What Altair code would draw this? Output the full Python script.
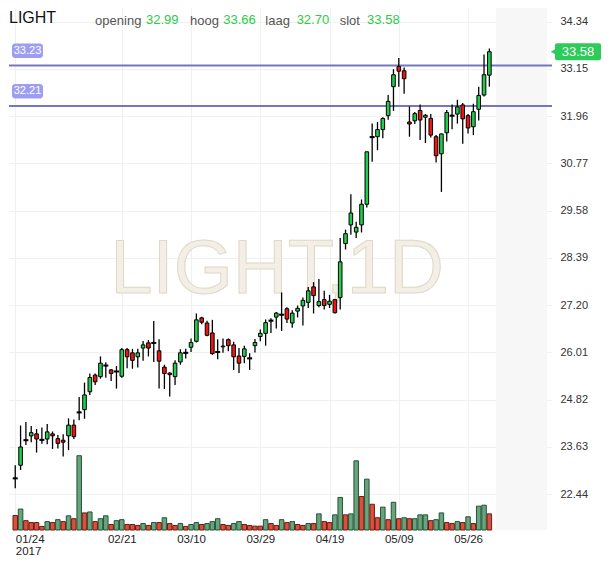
import altair as alt
import pandas as pd

# ---------------- data ----------------
opens = [22.84, 23.17, 23.80, 23.91, 23.96, 23.81, 23.83, 23.96, 23.84, 23.80,
         23.91, 24.18, 24.50, 24.57, 25.02, 25.44, 25.40, 25.68, 25.57, 25.53,
         25.41, 26.08, 26.00, 25.90, 26.12, 26.25, 26.25, 26.05, 25.64, 25.49,
         25.40, 25.77, 26.00, 26.14, 26.29, 26.88, 26.75, 26.50, 26.02, 26.15,
         26.33, 26.20, 25.92, 25.91, 25.86, 26.18, 26.41, 26.49, 26.81, 26.90,
         26.96, 27.11, 26.75, 27.05, 27.18, 27.27, 27.66, 27.19, 27.34, 27.22,
         27.34, 27.39, 28.75, 29.22, 29.04, 29.22, 29.74, 31.43, 31.44, 31.62,
         31.97, 32.70, 33.21, 33.10, 31.81, 31.84, 32.10, 31.93, 31.90, 31.44,
         31.01, 31.54, 31.97, 32.01, 32.24, 31.97, 31.69, 32.13, 32.49, 32.99]
highs = [23.17, 24.17, 24.26, 24.16, 24.08, 24.12, 24.21, 24.02, 23.93, 23.95,
         24.35, 24.32, 24.89, 25.25, 25.48, 25.48, 25.91, 25.76, 25.59, 25.67,
         26.12, 26.12, 26.10, 26.10, 26.30, 26.32, 26.80, 26.34, 25.70, 25.51,
         25.81, 26.09, 26.10, 26.36, 26.99, 26.91, 26.81, 26.83, 26.34, 26.36,
         26.36, 26.28, 26.12, 26.18, 25.99, 26.35, 26.59, 26.84, 26.87, 27.03,
         27.52, 27.15, 27.07, 27.19, 27.39, 27.66, 27.78, 27.86, 27.56, 27.46,
         27.35, 28.89, 29.10, 29.99, 29.30, 29.86, 31.06, 31.77, 31.81, 31.93,
         32.49, 33.14, 33.42, 33.18, 32.20, 32.06, 32.25, 32.01, 32.01, 31.48,
         31.52, 32.11, 32.25, 32.37, 32.29, 32.01, 32.27, 32.70, 33.51, 33.66]
lows = [22.59, 23.05, 23.68, 23.75, 23.49, 23.71, 23.70, 23.58, 23.59, 23.39,
        23.55, 23.83, 24.30, 24.34, 24.94, 25.19, 25.35, 25.37, 25.29, 25.10,
        25.37, 25.61, 25.60, 25.63, 25.80, 25.91, 25.77, 25.10, 25.09, 24.90,
        25.19, 25.70, 25.86, 26.02, 26.26, 26.72, 26.42, 25.95, 25.84, 26.00,
        26.04, 25.57, 25.49, 25.74, 25.57, 26.01, 26.29, 26.18, 26.50, 26.61,
        26.55, 26.75, 26.63, 26.89, 26.69, 27.13, 26.99, 27.15, 27.09, 27.13,
        26.99, 27.09, 28.60, 28.97, 28.89, 29.03, 29.66, 30.81, 31.10, 31.40,
        31.87, 32.09, 32.70, 32.52, 31.44, 31.76, 31.36, 31.28, 31.42, 30.79,
        30.05, 31.32, 31.63, 31.77, 31.26, 31.52, 31.48, 31.85, 32.45, 32.70]
closes = [22.84, 23.63, 23.80, 23.99, 23.83, 23.81, 24.01, 23.91, 23.72, 23.75,
          24.18, 23.89, 24.50, 24.94, 25.38, 25.27, 25.74, 25.68, 25.48, 25.53,
          26.08, 25.90, 25.81, 26.00, 26.20, 26.12, 26.25, 25.79, 25.48, 25.45,
          25.74, 26.00, 26.00, 26.26, 26.83, 26.77, 26.44, 25.98, 26.02, 26.17,
          26.18, 25.90, 25.74, 26.10, 25.86, 26.26, 26.49, 26.76, 26.81, 27.00,
          26.96, 26.85, 27.00, 27.12, 27.32, 27.56, 27.44, 27.29, 27.19, 27.30,
          27.01, 28.29, 29.00, 29.52, 29.16, 29.74, 31.06, 31.43, 31.62, 31.90,
          32.33, 33.00, 33.09, 32.90, 31.76, 32.02, 31.86, 31.98, 31.48, 30.96,
          31.51, 32.05, 31.97, 32.19, 31.89, 31.66, 32.07, 32.48, 33.00, 33.58]
volumes = [150, 217, 97, 77, 77, 37, 87, 77, 107, 87,
           147, 117, 770, 177, 187, 87, 117, 147, 57, 97,
           107, 57, 57, 47, 67, 47, 77, 77, 127, 67,
           47, 67, 37, 57, 77, 57, 67, 87, 117, 57,
           47, 67, 87, 57, 47, 40, 40, 107, 67, 47,
           107, 77, 87, 57, 47, 67, 67, 167, 87, 77,
           157, 337, 157, 167, 717, 347, 527, 267, 127, 237,
           107, 287, 117, 127, 117, 117, 157, 157, 97, 107,
           177, 77, 67, 87, 77, 137, 67, 247, 257, 167]
vol_side = list("OGOOOOGOGOGOGOGOGGOGGOOOGOGOGOOGOGGOGGGOOGGOO"
                "OOGOOGOGOOGOGOOGGOGGOGOOGOGOGOGGGOGGOOGOGOGGO")

tick_idx = [0, 20, 33, 46, 59, 72, 85]
tick_lbl = ["01/24", "02/21", "03/10", "03/29", "04/19", "05/09", "05/26"]
year_lbl = "2017"
price_ticks = [22.44, 23.63, 24.82, 26.01, 27.20, 28.39, 29.58, 30.77, 31.96, 33.15, 34.34]
level_vals = [33.23, 32.21]
last_price = [33.58]
header_names = ["opening", "hoog", "laag", "slot"]
header_vals = ["32.99", "33.66", "32.70", "33.58"]
symbol = "LIGHT"
watermark = "LIGHT,1D"

# ---------------- layout ----------------
W, H = 543, 522
SX, SY = W / 555, H / 541
FONT = "Liberation Sans"

df = pd.DataFrame({"idx": list(range(len(opens))), "open": opens, "high": highs,
                   "low": lows, "close": closes, "vol": volumes, "vside": vol_side})
df["dir"] = ["up" if c > o else ("down" if c < o else "flat") for o, c in zip(opens, closes)]
lv = pd.DataFrame({"lvl": level_vals})
lp = pd.DataFrame({"p": last_price})
one = pd.DataFrame({"k": [0]})

x_lo, x_hi = -0.234, 99.82
xscale = alt.Scale(domain=[x_lo, x_hi], nice=False, zero=False)
yscale = alt.Scale(domain=[21.54, 34.68], nice=False, zero=False)

parts = []
for i, (v, l) in enumerate(zip(tick_idx, tick_lbl)):
    lab = f"['{l}','{year_lbl}']" if i == 0 else f"'{l}'"
    parts.append(f"datum.value == {v} ? {lab} : ")
label_expr = "".join(parts) + "''"

xaxis = alt.Axis(values=tick_idx, labelExpr=label_expr, title=None, domain=False, ticks=False,
                 grid=True, gridColor="#f0f0f0", labelColor="#222222", labelFontSize=11.5,
                 labelPadding=3, labelLineHeight=12, labelBaseline="top", labelFont=FONT,
                 labelAlign={"condition": {"test": f"datum.value == {tick_idx[0]}", "value": "left"},
                             "value": "center"},
                 labelOverlap=False)
yaxis = alt.Axis(values=price_ticks, format=".2f", orient="right", title=None, domain=False,
                 ticks=False, grid=True, gridColor="#f0f0f0", labelColor="#333333",
                 labelFontSize=11, labelPadding=8, labelFont=FONT)

xenc = alt.X("idx:Q", scale=xscale, axis=xaxis)

# ---------------- background ----------------
hatch = alt.Chart(one).mark_rect(color="#f7f7f7").encode(
    x=alt.XDatum(90.27, scale=xscale, axis=xaxis),
    x2=alt.X2Datum(x_hi),
    y=alt.value(0), y2=alt.value(H),
)
wm = alt.Chart(one).mark_text(text=watermark, font=FONT, fontSize=76, color="#f3efe6",
                              stroke="#e0d9c6", strokeWidth=1, align="center",
                              baseline="alphabetic").encode(
    x=alt.value(274 * SX), y=alt.value(295 * SY))
bg = alt.layer(hatch, wm)

# ---------------- volume ----------------
vol = alt.Chart(df).mark_bar(size=4.5, strokeWidth=1).encode(
    x=xenc,
    y=alt.Y("vol:Q", scale=alt.Scale(domain=[0, 5410], nice=False), axis=None),
    fill=alt.Fill("vside:N", scale=alt.Scale(domain=["G", "O"], range=["#6aa47f", "#dc4f3d"]), legend=None),
    stroke=alt.Stroke("vside:N", scale=alt.Scale(domain=["G", "O"], range=["#1f5534", "#6a1b13"]), legend=None),
)

# ---------------- price layers ----------------
lines = alt.Chart(lv).mark_rule(color="#7676c0", strokeWidth=2).encode(
    y=alt.Y("lvl:Q", scale=yscale, axis=yaxis))
badge = alt.Chart(lv).mark_rect(color="#9d9df3", cornerRadius=3,
                                yOffset=-23 * SY, y2Offset=-8 * SY).encode(
    x=alt.value(3), x2=alt.value(34),
    y=alt.Y("lvl:Q", scale=yscale, axis=yaxis), y2="lvl:Q")
badge_txt = alt.Chart(lv).mark_text(color="white", fontSize=11, font=FONT, align="center",
                                    baseline="middle", dy=-15.5 * SY).encode(
    x=alt.value(18.5), y=alt.Y("lvl:Q", scale=yscale, axis=yaxis),
    text=alt.Text("lvl:Q", format=".2f"))

wick = alt.Chart(df).mark_rule(color="black", strokeWidth=1.3).encode(
    x=xenc, y=alt.Y("low:Q", scale=yscale, axis=yaxis), y2="high:Q")
body = alt.Chart(df).mark_bar(size=3.6, stroke="black", strokeWidth=1).encode(
    x=xenc, y=alt.Y("open:Q", scale=yscale, axis=yaxis), y2="close:Q",
    color=alt.Color("dir:N", scale=alt.Scale(domain=["up", "down", "flat"],
                                             range=["#22cc4e", "#ee1414", "#000000"]), legend=None))
flat = alt.Chart(df).transform_filter("datum.dir == 'flat'").mark_rule(
    color="black", strokeWidth=2, xOffset=-2.5, x2Offset=2.5).encode(
    x=xenc, x2="idx:Q", y=alt.Y("open:Q", scale=yscale, axis=yaxis))

tag = alt.Chart(lp).mark_rect(color="#2ccb5a", cornerRadius=2, yOffset=-8.5, y2Offset=8.5).encode(
    x=alt.value(W + 3), x2=alt.value(W + 49),
    y=alt.Y("p:Q", scale=yscale, axis=yaxis), y2="p:Q")
tag_ptr = alt.Chart(lp).mark_point(shape="triangle-left", filled=True, size=40, color="#2ccb5a",
                                   opacity=1).encode(
    x=alt.value(W + 1.5), y=alt.Y("p:Q", scale=yscale, axis=yaxis))
tag_txt = alt.Chart(lp).mark_text(color="white", fontSize=13, font=FONT, align="center",
                                  baseline="middle").encode(
    x=alt.value(W + 26), y=alt.Y("p:Q", scale=yscale, axis=yaxis),
    text=alt.Text("p:Q", format=".2f"))

hdr = [alt.Chart(one).mark_text(text=symbol, fontSize=16, font=FONT, color="#111111",
                                align="left", baseline="alphabetic").encode(
    x=alt.value(0), y=alt.value(16 * SY))]
name_x = [88, 185, 262, 338]
val_x = [140, 219, 294, 366]
for nm, vv, nx, vx in zip(header_names, header_vals, name_x, val_x):
    hdr.append(alt.Chart(one).mark_text(text=nm, fontSize=13, font=FONT, color="#555555",
                                        align="left", baseline="alphabetic").encode(
        x=alt.value(nx * SX), y=alt.value(18 * SY)))
    hdr.append(alt.Chart(one).mark_text(text=vv, fontSize=13, font=FONT, color="#2bcc45",
                                        align="left", baseline="alphabetic").encode(
        x=alt.value(vx * SX), y=alt.value(17 * SY)))

fg = alt.layer(lines, badge, badge_txt, wick, body, flat, tag, tag_ptr, tag_txt, *hdr)

chart = alt.layer(bg, vol, fg).resolve_scale(y="independent").properties(
    width=W, height=H, padding=0, background="white"
).configure_view(stroke=None)

chart.save("out.html", embed_options={"renderer": "svg", "actions": False})
